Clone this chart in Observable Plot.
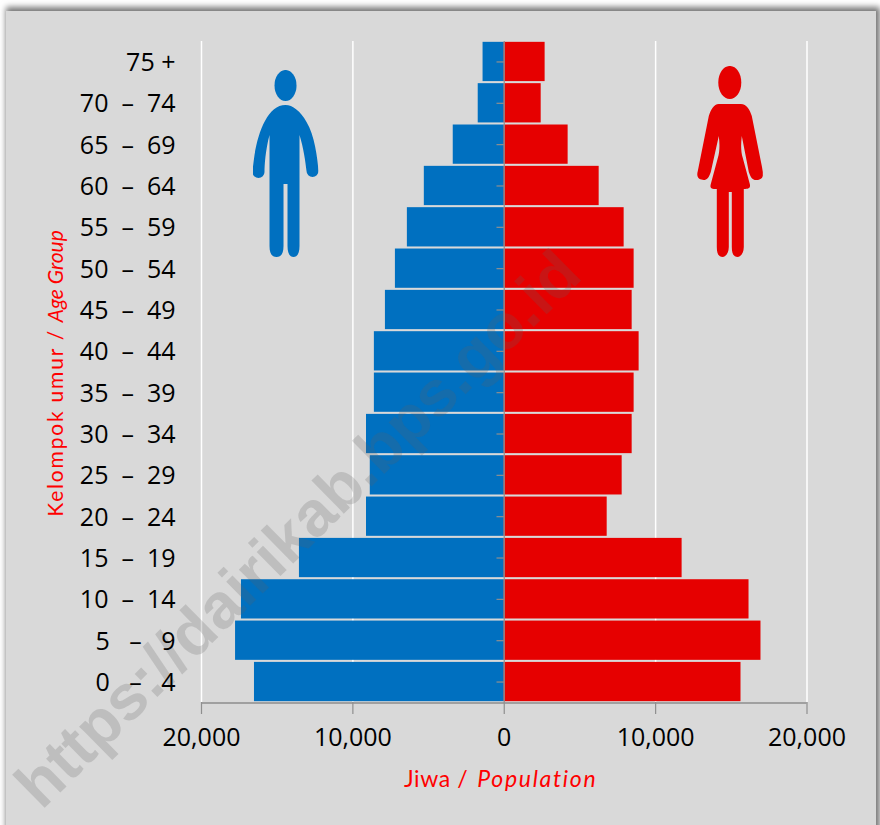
<!DOCTYPE html>
<html><head><meta charset="utf-8">
<script src="https://cdn.jsdelivr.net/npm/d3@7"></script>
<script src="https://cdn.jsdelivr.net/npm/@observablehq/plot@0.6"></script>
<style>
html,body{margin:0;padding:0;background:#fff;overflow:hidden}
#wrap{position:relative;width:880px;height:825px;overflow:hidden}
#panel{position:absolute;left:6px;top:11px;width:870px;height:830px;background:#d9d9d9;box-shadow:2px -2px 6px 2px #777}
#chart{position:absolute;left:0;top:0}
svg{background:transparent!important;display:block}
.spaced text{letter-spacing:1.8px}
.spaced2 text{letter-spacing:1.7px}
.spaced3 text{letter-spacing:.6px}
</style></head><body>
<div id="wrap"><div id="panel"></div><div id="chart"></div></div>
<script>
const ageGroups = ["75 +","70 – 74","65 – 69","60 – 64","55 – 59","50 – 54","45 – 49","40 – 44","35 – 39","30 – 34","25 – 29","20 – 24","15 – 19","10 – 14","5 – 9","0 – 4"];
const male   = [1400,1720,3370,5280,6400,7190,7850,8580,8580,9100,8850,9100,13530,17360,17750,16500];
const female = [2700,2440,4220,6270,7920,8580,8450,8910,8580,8450,7790,6800,11750,16170,16960,15640];
const xTicks = [-20000,-10000,0,10000,20000];
const gridTicks = [-20000,-10000,10000,20000];
const rows = ageGroups.map((age,i)=>({age,male:male[i],female:female[i]}));

const manSvg = `<svg xmlns="http://www.w3.org/2000/svg" viewBox="0 0 66 187"><ellipse cx="33" cy="15.5" rx="11" ry="15.5" fill="#0070c0"/><path fill="#0070c0" d="M33 35C16 35 6 60 2 85C1 92 0 100 0 102A6 6 0 0 0 12 102C12 95 13 80 17 65V176C17 183 19 187 24 187C29 187 31 183 31 176V114H35V176C35 183 37 187 41 187C45 187 47 183 47 176V65C51 78 53 92 54 101A6 6 0 0 0 66 101C65 88 62 65 54 52C48 41 40 35 33 35Z"/></svg>`;
const womanSvg = `<svg xmlns="http://www.w3.org/2000/svg" viewBox="0 0 66 191"><ellipse cx="33" cy="16.5" rx="11.5" ry="16.5" fill="#e60000"/><path fill="#e60000" d="M22 38H44C50 38 53 44 55 50L66 105C68 113 62 114 59 114C56 114 54 112 52 106L45 70C44 78 44 86 46 92L53 118C54 122 52 123 47 123V181C47 188 43 191 41 191C37 191 35 188 35 181V126H32V181C32 188 28 191 26 191C22 191 20 188 20 181V123C14 123 13 122 14 118L21 92C23 86 23 78 22 70L14 106C12 112 10 114 7 114C3 114 -1 112 1 105L12 50C14 44 17 38 22 38Z"/></svg>`;
const url = s => "data:image/svg+xml;utf8," + encodeURIComponent(s);

const F = "Open Sans";
const N = "Lato";
const at = v => () => v;
const ageLabel = d => {
  const gap = d.length < 6 ? "\u00a0\u00a0\u00a0" : "\u00a0\u00a0";
  return d.replace(" – ", gap + "–" + gap);
};
const chart = Plot.plot({
  width:880, height:825,
  marginLeft:201, marginRight:73.5, marginTop:41, marginBottom:123,
  style:{background:"transparent",fontFamily:F},
  x:{type:"linear",domain:[-20000,20000],label:null,axis:null},
  y:{domain:ageGroups,paddingInner:0.05,paddingOuter:0.02,round:false,label:null,axis:null},
  marks:[
    Plot.ruleX(gridTicks,{stroke:"#fff",strokeWidth:1.5}),
    Plot.barX(rows,{x:d=>-d.male,y:"age",fill:"#0070c0"}),
    Plot.barX(rows,{x:"female",y:"age",fill:"#e60000"}),
    Plot.text(["https://dairikab.bps.go.id"],{x:at(-13600),y:at("20 – 24"),dy:13,text:d=>d,rotate:-44.5,fontFamily:"Liberation Sans",fontWeight:"bold",fontSize:64,fill:"#606060",fillOpacity:0.22}),
    Plot.image(["man"],{x:at(-14450),y:at("60 – 64"),dy:-22.5,width:66,height:187,src:()=>url(manSvg),preserveAspectRatio:"none"}),
    Plot.image(["woman"],{x:at(14900),y:at("60 – 64"),dy:-24.5,width:66,height:191,src:()=>url(womanSvg),preserveAspectRatio:"none"}),
    Plot.ruleX([0],{stroke:"#8f8f8f",strokeWidth:1.2}),
    Plot.ruleY(ageGroups,{y:d=>d,x1:at(-480),x2:at(0),stroke:"#8f8f8f",strokeWidth:1.2}),
    Plot.ruleY(["0 – 4"],{y:d=>d,dy:21,x1:at(-20000),x2:at(20000),stroke:"#a0a0a0",strokeWidth:2}),
    Plot.axisY({anchor:"left",tickSize:0,tickPadding:0,dx:-26,dy:1,fontSize:25,fill:"#000",label:null,tickFormat:ageLabel}),
    Plot.axisX(xTicks,{anchor:"bottom",tickSize:12,tickPadding:14,stroke:"#8f8f8f",strokeWidth:1.2,fontSize:25,fill:"#000",label:null,tickFormat:d=>d3.format(",")(Math.abs(d))}),
    Plot.text(["Jiwa /"],{x:at(0),y:at("0 – 4"),dy:98,textAnchor:"end",dx:-36,text:d=>d,fontSize:23,fontFamily:N,fill:"#ff0000",className:"spaced3"}),
    Plot.text(["Population"],{x:at(0),y:at("0 – 4"),dy:98,textAnchor:"start",dx:-27,text:d=>d,fontSize:23,fontStyle:"italic",fontFamily:N,fill:"#ff0000",className:"spaced2"}),
    Plot.text(["Kelompok umur /"],{x:at(-20000),y:at("20 – 24"),dy:0,dx:-145,rotate:-90,textAnchor:"start",text:d=>d,fontSize:21,fontFamily:N,fill:"#ff0000",className:"spaced"}),
    Plot.text(["Age Group"],{x:at(-20000),y:at("40 – 44"),dy:-29,dx:-145,rotate:-90,textAnchor:"start",text:d=>d,fontSize:21,fontStyle:"italic",fontFamily:N,fill:"#ff0000"})
  ]
});
document.getElementById("chart").append(chart);
</script>
</body></html>
